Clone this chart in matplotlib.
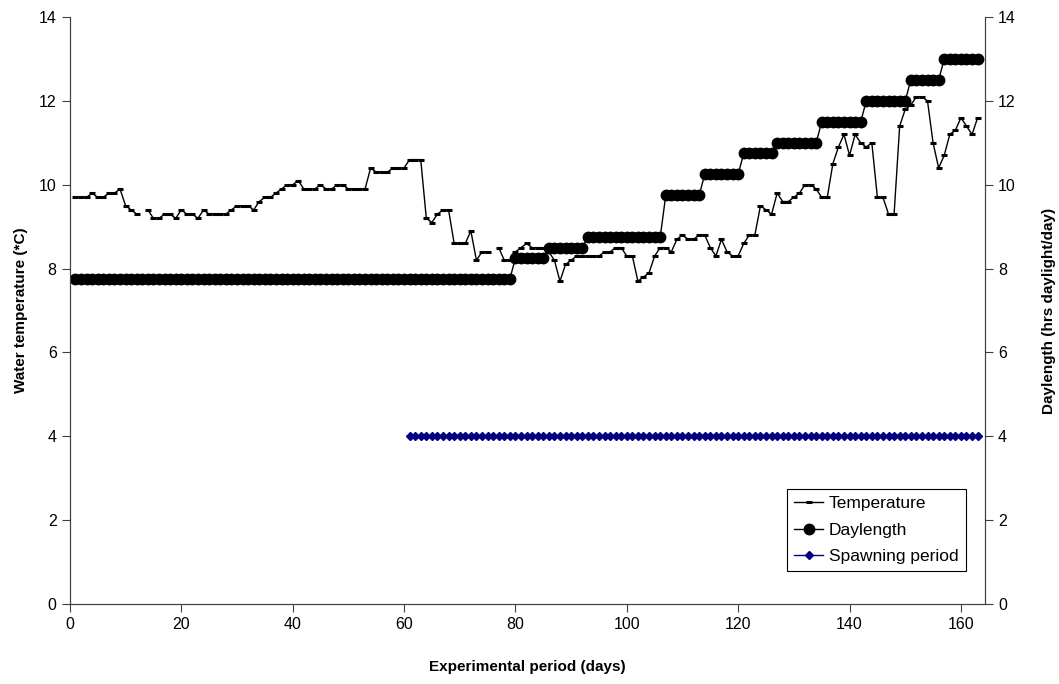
import numpy as np
import matplotlib.pyplot as plt

plt.rcParams['font.family'] = ['Liberation Sans', 'DejaVu Sans']

# daily water temperature (days 1..163), nan = missing reading
temp = [
    9.7, 9.7, 9.7, 9.8, 9.7, 9.7, 9.8, 9.8, 9.9, 9.5,
    9.4, 9.3, np.nan, 9.4, 9.2, 9.2, 9.3, 9.3, 9.2, 9.4,
    9.3, 9.3, 9.2, 9.4, 9.3, 9.3, 9.3, 9.3, 9.4, 9.5,
    9.5, 9.5, 9.4, 9.6, 9.7, 9.7, 9.8, 9.9, 10.0, 10.0,
    10.1, 9.9, 9.9, 9.9, 10.0, 9.9, 9.9, 10.0, 10.0, 9.9,
    9.9, 9.9, 9.9, 10.4, 10.3, 10.3, 10.3, 10.4, 10.4, 10.4,
    10.6, 10.6, 10.6, 9.2, 9.1, 9.3, 9.4, 9.4, 8.6, 8.6,
    8.6, 8.9, 8.2, 8.4, 8.4, np.nan, 8.5, 8.2, 8.2, 8.4,
    8.5, 8.6, 8.5, 8.5, 8.5, 8.4, 8.2, 7.7, 8.1, 8.2,
    8.3, 8.3, 8.3, 8.3, 8.3, 8.4, 8.4, 8.5, 8.5, 8.3,
    8.3, 7.7, 7.8, 7.9, 8.3, 8.5, 8.5, 8.4, 8.7, 8.8,
    8.7, 8.7, 8.8, 8.8, 8.5, 8.3, 8.7, 8.4, 8.3, 8.3,
    8.6, 8.8, 8.8, 9.5, 9.4, 9.3, 9.8, 9.6, 9.6, 9.7,
    9.8, 10.0, 10.0, 9.9, 9.7, 9.7, 10.5, 10.9, 11.2, 10.7,
    11.2, 11.0, 10.9, 11.0, 9.7, 9.7, 9.3, 9.3, 11.4, 11.8,
    11.9, 12.1, 12.1, 12.0, 11.0, 10.4, 10.7, 11.2, 11.3, 11.6,
    11.4, 11.2, 11.6,
]
days = np.arange(1, len(temp) + 1)

# daylength steps: (first day, last day, hours)
day_steps = [
    (1, 79, 7.75), (80, 85, 8.25), (86, 92, 8.5), (93, 106, 8.75),
    (107, 113, 9.75), (114, 120, 10.25), (121, 126, 10.75), (127, 134, 11.0),
    (135, 142, 11.5), (143, 150, 12.0), (151, 156, 12.5), (157, 163, 13.0),
]
daylength = []
for a, b, h in day_steps:
    daylength += [h] * (b - a + 1)

# spawning period
spawn_days = np.arange(61, 164)
spawn_level = [4] * len(spawn_days)

fig, ax = plt.subplots(figsize=(10.59, 6.84), dpi=100)
fig.subplots_adjust(left=0.066, right=0.930, top=0.975, bottom=0.117)
ax2 = ax.twinx()

l1, = ax.plot(days, temp, color='black', lw=1.0, marker='_', ms=5, mew=2.2,
              label='Temperature')
l2, = ax2.plot(days, daylength, color='black', lw=1.0, marker='o', ms=7.5,
               label='Daylength')
l3, = ax2.plot(spawn_days, spawn_level, color='#000080', lw=1.0, marker='D',
               ms=4.5, label='Spawning period')

for a in (ax, ax2):
    a.set_xlim(0, 164.3)
    a.set_ylim(0, 14)
    a.set_yticks(range(0, 15, 2))
    a.spines['top'].set_visible(False)
    for s in a.spines.values():
        s.set_color('#404040')
    a.tick_params(labelsize=11.5, length=6, color='#404040')
ax.set_xticks(range(0, 161, 20))

ax.set_xlabel('Experimental period (days)', fontsize=11, fontweight='bold', labelpad=20)
ax.set_ylabel('Water temperature (*C)', fontsize=11, fontweight='bold', labelpad=8)
ax2.set_ylabel('Daylength (hrs daylight/day)', fontsize=11, fontweight='bold', labelpad=19)

leg = ax2.legend(handles=[l1, l2, l3], loc='lower right', bbox_to_anchor=(0.979, 0.056),
                 borderaxespad=0, fontsize=12.5, fancybox=False, framealpha=1,
                 edgecolor='black', handlelength=1.67, handletextpad=0.35,
                 borderpad=0.4, labelspacing=0.65)
leg.get_frame().set_linewidth(0.8)

plt.savefig('out.png', dpi=100)
